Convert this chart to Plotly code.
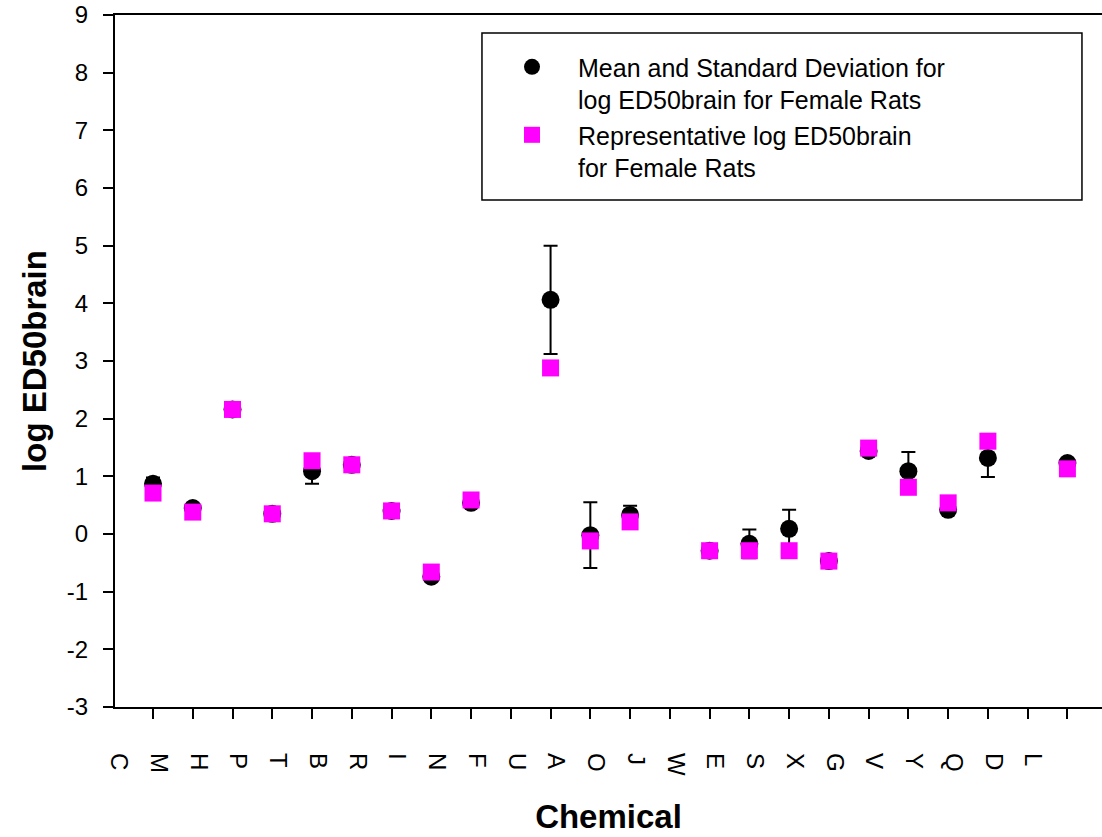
import plotly.graph_objects as go

categories = ["C", "M", "H", "P", "T", "B", "R", "I", "N", "F", "U", "A",
              "O", "J", "W", "E", "S", "X", "G", "V", "Y", "Q", "D", "L"]
mean_log_ed50 = [0.87, 0.45, 2.16, 0.35, 1.09, 1.20, 0.40, -0.74, 0.54, None, 4.06, -0.02,
                 0.33, None, -0.29, -0.17, 0.09, -0.47, 1.44, 1.09, 0.42, 1.32, None, 1.23]
sd_log_ed50 = [0.11, 0.05, 0.05, 0.05, 0.22, 0.05, 0.05, 0.08, 0.05, None, 0.94, 0.57,
               0.16, None, 0.05, 0.25, 0.33, 0.05, 0.05, 0.33, 0.05, 0.33, None, 0.05]
rep_log_ed50 = [0.71, 0.38, 2.16, 0.35, 1.27, 1.20, 0.40, -0.66, 0.59, None, 2.88, -0.12,
                0.21, None, -0.29, -0.29, -0.29, -0.47, 1.49, 0.81, 0.54, 1.61, None, 1.13]
y_ticks = list(range(-3, 10))
y_tick_labels = [str(v) for v in y_ticks]  # plain hyphen minus, as in the original

positions = list(range(len(categories)))
label_shift = 0.86  # rotated labels sit left of their ticks in the original

FONT = "Liberation Sans, Arial, sans-serif"

fig = go.Figure()
fig.add_trace(go.Scatter(
    x=positions, y=mean_log_ed50, mode="markers",
    name="Mean and Standard Deviation for<br>log ED50brain for Female Rats",
    marker=dict(symbol="circle", size=18, color="black"),
    error_y=dict(type="data", array=sd_log_ed50, visible=True,
                 color="black", thickness=2, width=7),
))
fig.add_trace(go.Scatter(
    x=positions, y=rep_log_ed50, mode="markers",
    name="Representative log ED50brain<br>for Female Rats",
    marker=dict(symbol="square", size=17, color="#ff00ff"),
))
# invisible trace on the overlay axis that carries the category labels
fig.add_trace(go.Scatter(x=positions, y=[None] * len(positions), xaxis="x2",
                         showlegend=False, hoverinfo="skip"))

xrange = [-0.956, 23.87]
fig.update_layout(
    width=1102, height=837,
    margin=dict(l=115, r=0, t=15, b=130, autoexpand=False),
    paper_bgcolor="white", plot_bgcolor="white",
    font=dict(family=FONT, color="black", size=24),
    xaxis=dict(range=xrange, tickvals=positions, showticklabels=False,
               ticks="outside", ticklen=10, tickwidth=1.5, tickcolor="black",
               showline=True, linecolor="black", linewidth=2, mirror=True,
               showgrid=False, zeroline=False, automargin=False,
               title=dict(text="<b>Chemical</b>", font=dict(size=33), standoff=87)),
    xaxis2=dict(overlaying="x", anchor="y", side="bottom", range=xrange,
                tickvals=[p - label_shift for p in positions], ticktext=categories,
                tickangle=90, ticks="", showline=False, showgrid=False, zeroline=False,
                ticklabelstandoff=45, tickfont=dict(size=24), automargin=False),
    yaxis=dict(range=[-3, 9], tickvals=y_ticks, ticktext=y_tick_labels,
               ticks="outside", ticklen=10, ticklabeloverflow="allow",
               tickwidth=1.5, tickcolor="black", showline=True, linecolor="black",
               linewidth=2, showgrid=False, zeroline=False, ticklabelstandoff=10,
               automargin=False,
               title=dict(text="<b>log ED50brain</b>", font=dict(size=33), standoff=10)),
    legend=dict(x=0.3759, y=0.958, xanchor="left", yanchor="top",
                bgcolor="rgba(0,0,0,0)", borderwidth=0,
                font=dict(size=25), valign="top", itemwidth=82),
    shapes=[dict(type="rect", xref="paper", yref="paper",
                 x0=0.3718, x1=0.9797, y0=0.7327, y1=0.974,
                 line=dict(color="black", width=1.5), fillcolor="white",
                 layer="below")],
)

fig.write_html("out.html",
               config={"displayModeBar": False},
               post_script="document.body.style.margin='0';"
                           "document.body.style.overflow='hidden';")
